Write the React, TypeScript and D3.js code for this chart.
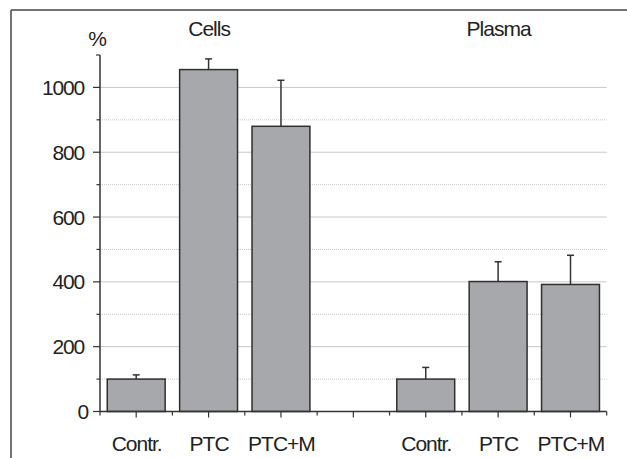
import React from "react";
import * as d3 from "d3";

const groups = ["Cells", "Plasma"];
const categories = ["Contr.", "PTC", "PTC+M"];
const cellsValues = [100, 1055, 880];
const cellsErrors = [13, 33, 142];
const plasmaValues = [100, 401, 392];
const plasmaErrors = [36, 61, 90];
const majorTicks = [0, 200, 400, 600, 800, 1000];
const minorTicks = [100, 300, 500, 700, 900];

const W = 627;
const H = 458;
const FONT = "'Liberation Sans', Arial, Helvetica, sans-serif";
const FS = 21;

export default function App() {
  const slots = ["c0", "c1", "c2", "gap", "p0", "p1", "p2"];
  const x = d3.scaleBand<string>().domain(slots).range([100, 606.7]).padding(0);
  const y = d3.scaleLinear().domain([0, 1100]).range([411.5, 55]);
  const step = x.step();
  const bw = step * 0.8;

  const bars = [
    ...categories.map((c, i) => ({ key: "c" + i, label: c, v: cellsValues[i], e: cellsErrors[i] })),
    ...categories.map((c, i) => ({ key: "p" + i, label: c, v: plasmaValues[i], e: plasmaErrors[i] })),
  ];
  const center = (k: string) => (x(k) as number) + step / 2;
  const x0 = 100;
  const x1 = 606.7;
  const axisColor = "#333";

  return (
    <svg width={W} height={H} style={{ position: "absolute", left: 0, top: 0 }} fontFamily={FONT}>
      <rect x={0} y={0} width={W} height={H} fill="#fff" />
      {/* frame */}
      <line x1={11} y1={10} x2={W} y2={10} stroke="#444" strokeWidth={1.5} />
      <line x1={11} y1={10} x2={11} y2={H} stroke="#444" strokeWidth={1.5} />

      {/* gridlines */}
      {majorTicks.filter((t) => t > 0).map((t) => (
        <line key={"g" + t} x1={x0} x2={x1} y1={y(t)} y2={y(t)} stroke="#c8c8c8" strokeWidth={1} />
      ))}
      {minorTicks.map((t) => (
        <line key={"m" + t} x1={x0} x2={x1} y1={y(t)} y2={y(t)} stroke="#b8b8b8" strokeWidth={0.8} strokeDasharray="1,1" />
      ))}

      {/* error bars */}
      {bars.map((b) => (
        <g key={"e" + b.key} stroke="#333" strokeWidth={1.5}>
          <line x1={center(b.key)} x2={center(b.key)} y1={y(b.v)} y2={y(b.v + b.e)} />
          <line x1={center(b.key) - 3.5} x2={center(b.key) + 3.5} y1={y(b.v + b.e)} y2={y(b.v + b.e)} />
        </g>
      ))}

      {/* bars */}
      {bars.map((b) => (
        <rect
          key={"b" + b.key}
          x={center(b.key) - bw / 2}
          y={y(b.v)}
          width={bw}
          height={y(0) - y(b.v)}
          fill="#a7a8ab"
          stroke="#2f2f2f"
          strokeWidth={1.5}
        />
      ))}

      {/* y axis */}
      <line x1={x0} x2={x0} y1={y(1100)} y2={y(0)} stroke={axisColor} strokeWidth={1.5} />
      <line x1={x0 - 4} x2={x0} y1={y(1100)} y2={y(1100)} stroke={axisColor} strokeWidth={1.2} />
      {majorTicks.map((t) => (
        <g key={"yt" + t}>
          <line x1={x0 - 7} x2={x0} y1={y(t)} y2={y(t)} stroke={axisColor} strokeWidth={1.2} />
          <text x={t === 0 ? 88 : 84} y={y(t)} dy="0.36em" textAnchor="end" fontSize={FS} letterSpacing={-1.2} fill="#222">
            {t}
          </text>
        </g>
      ))}
      {minorTicks.map((t) => (
        <line key={"ymt" + t} x1={x0 - 3.5} x2={x0} y1={y(t)} y2={y(t)} stroke={axisColor} strokeWidth={1.2} />
      ))}
      <text x={97.5} y={45.5} textAnchor="middle" fontSize={FS} fill="#222">%</text>

      {/* x axis */}
      <line x1={x0} x2={x1} y1={y(0)} y2={y(0)} stroke={axisColor} strokeWidth={1.5} />
      {slots.map((s) => (
        <g key={"xt" + s}>
          <line x1={x(s) as number} x2={x(s) as number} y1={y(0)} y2={y(0) + 4} stroke={axisColor} strokeWidth={1.2} />
          <line x1={center(s)} x2={center(s)} y1={y(0)} y2={y(0) + 6} stroke={axisColor} strokeWidth={1.2} />
        </g>
      ))}
      <line x1={x1} x2={x1} y1={y(0)} y2={y(0) + 4} stroke={axisColor} strokeWidth={1.2} />
      {bars.map((b) => (
        <text key={"xl" + b.key} x={center(b.key) + 0.5} y={451} textAnchor="middle" fontSize={FS} letterSpacing={-1} fill="#222">
          {b.label}
        </text>
      ))}

      {/* group titles */}
      <text x={center("c1") + 0.5} y={35.5} textAnchor="middle" fontSize={FS} letterSpacing={-1} fill="#222">{groups[0]}</text>
      <text x={center("p1") + 0.5} y={35.5} textAnchor="middle" fontSize={FS} letterSpacing={-1} fill="#222">{groups[1]}</text>
    </svg>
  );
}
